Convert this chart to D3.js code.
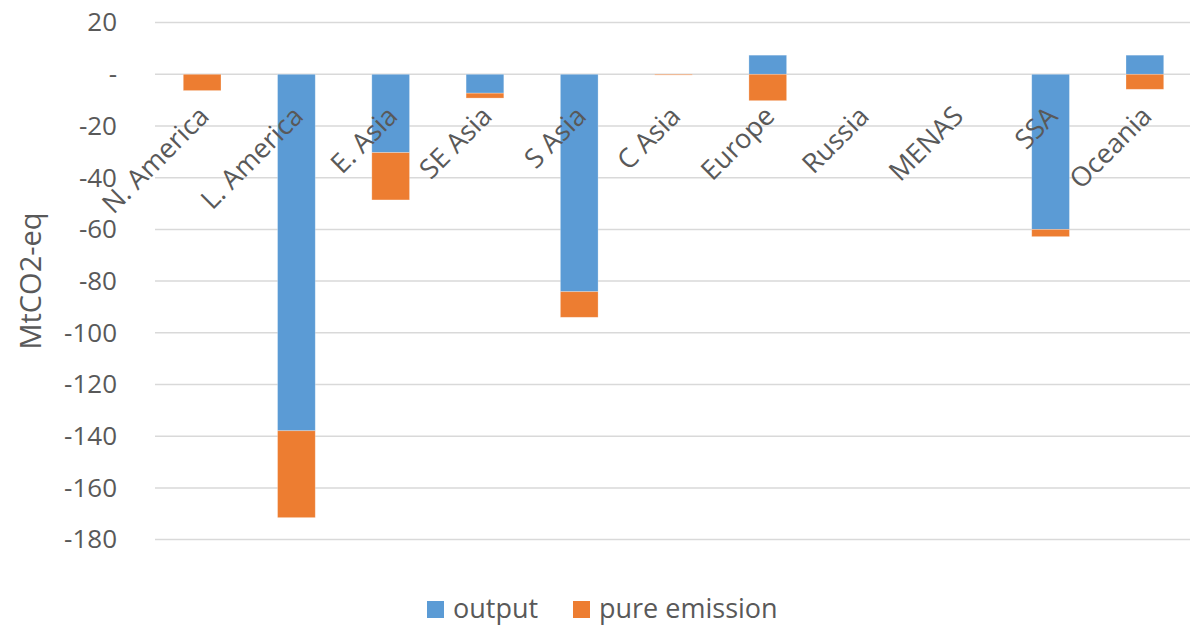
<!DOCTYPE html>
<html>
<head>
<meta charset="utf-8">
<script src="https://cdn.jsdelivr.net/npm/d3@7"></script>
<style>
  html, body { margin: 0; padding: 0; background: #fff; }
  svg { display: block; }
  text { font-family: "Open Sans", "Noto Sans", sans-serif; fill: #595959; }
</style>
</head>
<body>
<svg id="chart" width="1190" height="625"></svg>
<script>
const categories = ["N. America", "L. America", "E. Asia", "SE Asia", "S Asia", "C Asia", "Europe", "Russia", "MENAS", "SSA", "Oceania"];
const outputValues = [0, -137.9, -30.3, -7.3, -84.1, 0, 7.4, 0, 0, -60.0, 7.4];
const pureEmissionValues = [-6.3, -33.6, -18.3, -1.9, -9.9, -0.3, -10.2, 0, 0, -2.8, -5.8];
const seriesNames = ["output", "pure emission"];
const seriesColors = ["#5b9bd5", "#ed7d31"];
const yTicks = [20, 0, -20, -40, -60, -80, -100, -120, -140, -160, -180];
const yTitle = "MtCO2-eq";

const svg = d3.select("#chart");
const plotLeft = 155, plotRight = 1192;
const x = d3.scaleBand().domain(categories).range([plotLeft, plotRight]).paddingInner(0.6).paddingOuter(0.3);
const y = d3.scaleLinear().domain([-180, 20]).range([539.6, 22.6]);

// gridlines
svg.append("g").selectAll("line").data(yTicks).join("line")
  .attr("x1", plotLeft).attr("x2", 1190)
  .attr("y1", d => y(d)).attr("y2", d => y(d))
  .attr("stroke", "#d9d9d9").attr("stroke-width", 1.5);

// y axis labels
const yAxis = d3.axisLeft(y).tickValues(yTicks).tickSize(0).tickPadding(0)
  .tickFormat(d => d === 0 ? "-" : String(d));
const yg = svg.append("g").attr("transform", "translate(117,0)").call(yAxis);
yg.select(".domain").remove();
yg.selectAll("text").style("font-size", "26px").attr("fill", "#595959")
  .style("font-family", "'Open Sans', sans-serif");

// y title
svg.append("text")
  .attr("transform", "translate(41,281) rotate(-90)")
  .attr("text-anchor", "middle")
  .style("font-size", "29px")
  .text(yTitle);

// stacked bars
const table = categories.map((c, i) => ({ cat: c, output: outputValues[i], "pure emission": pureEmissionValues[i] }));
const stack = d3.stack().keys(seriesNames).offset(d3.stackOffsetDiverging);
const layers = stack(table);

svg.append("g").selectAll("g").data(layers).join("g")
  .attr("fill", (d, i) => seriesColors[i])
  .selectAll("rect").data(d => d).join("rect")
  .attr("x", d => x(d.data.cat))
  .attr("width", x.bandwidth())
  .attr("y", d => y(Math.max(d[0], d[1])))
  .attr("height", d => Math.abs(y(d[0]) - y(d[1])))
  .attr("stroke", "#fff").attr("stroke-opacity", 0.35).attr("stroke-width", 0.75);

// category labels
svg.append("g").selectAll("text").data(categories).join("text")
  .attr("transform", d => `translate(${x(d) + x.bandwidth() / 2 - 5},${y(0) + 30}) rotate(-45)`)
  .attr("text-anchor", "end")
  .attr("dy", "0.71em")
  .style("font-size", "27px")
  .text(d => d);

// legend
const legend = svg.append("g");
const legendItems = [{ name: seriesNames[0], x: 427 }, { name: seriesNames[1], x: 573 }];
legendItems.forEach((it, i) => {
  legend.append("rect").attr("x", it.x).attr("y", 601).attr("width", 17).attr("height", 17).attr("fill", seriesColors[i]);
  legend.append("text").attr("x", it.x + 26).attr("y", 618).style("font-size", "27px").text(it.name);
});
</script>
</body>
</html>
